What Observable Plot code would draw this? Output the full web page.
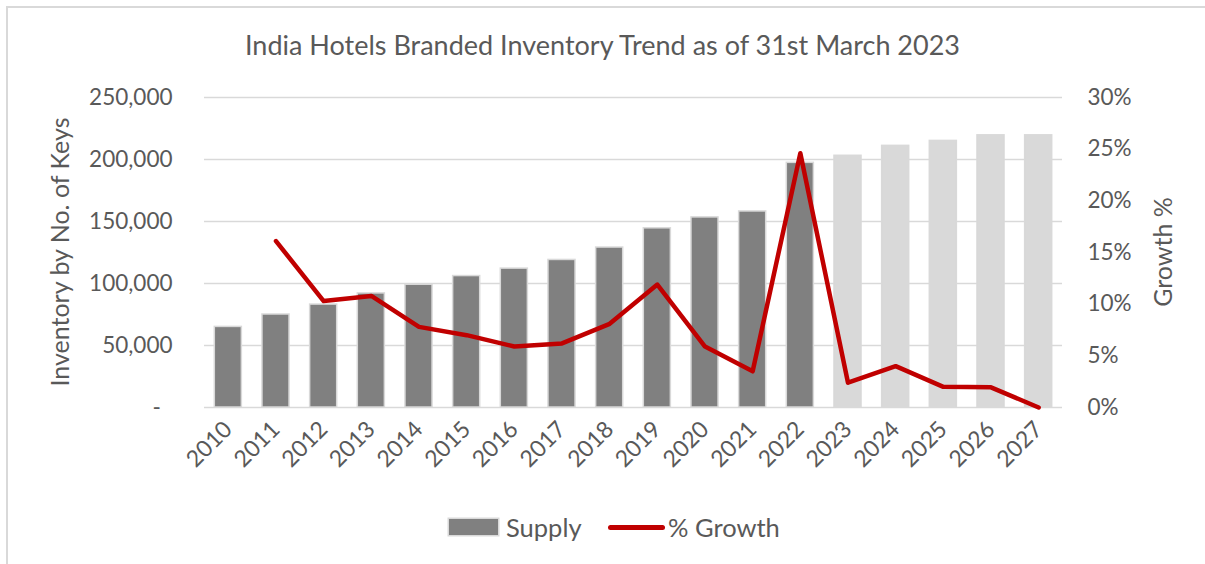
<!DOCTYPE html>
<html><head><meta charset="utf-8">
<script src="https://cdn.jsdelivr.net/npm/d3@7"></script>
<script src="https://cdn.jsdelivr.net/npm/@observablehq/plot@0.6"></script>
<style>
html,body{margin:0;padding:0;background:#fff;overflow:hidden;width:1205px;height:564px}
#wrap{position:relative;width:1205px;height:564px;font-family:Lato,sans-serif;color:#595959}
#frame{position:absolute;left:6px;top:6px;width:1300px;height:700px;border:2px solid #d9d9d9;box-sizing:border-box;pointer-events:none}
#chart{position:absolute;left:0;top:0}
#title{position:absolute;left:0;width:1205px;top:28px;text-align:center;font-size:27px;line-height:34px;white-space:nowrap}
.ytitle{position:absolute;font-size:25px;line-height:30px;white-space:nowrap;transform:translate(-50%,-50%) rotate(-90deg)}
#legend{position:absolute;top:512px;left:0;width:1205px;height:30px;font-size:25.5px;line-height:30px}
.sw{position:absolute}
.lt{position:absolute;top:0;white-space:nowrap}
</style></head>
<body><div id="wrap">
<div id="chart"></div>
<div id="title"></div>
<div class="ytitle" id="yl" style="left:59px;top:252px"></div>
<div class="ytitle" id="yr" style="left:1162px;top:252px"></div>
<div id="legend"></div>
<div id="frame"></div>
</div>
<script>
const titleText = "India Hotels Branded Inventory Trend as of 31st March 2023";
const leftTitle = "Inventory by No. of Keys";
const rightTitle = "Growth %";
const years = ["2010","2011","2012","2013","2014","2015","2016","2017","2018","2019","2020","2021","2022","2023","2024","2025","2026","2027"];
const supply = [65000,75000,83000,92000,99000,106000,112000,119000,129000,144500,153300,158100,197300,203000,211000,215000,219500,219500];
const growthPct = [null,16.1,10.3,10.8,7.8,7.0,5.9,6.2,8.1,11.9,5.9,3.5,24.6,2.4,4.0,2.0,1.95,0];
const kind = ["Actual","Actual","Actual","Actual","Actual","Actual","Actual","Actual","Actual","Actual","Actual","Actual","Actual","Projected","Projected","Projected","Projected","Projected"];
const leftTicks = [0,50000,100000,150000,200000,250000];
const rightTicks = [0,5,10,15,20,25,30];
const seriesNames = ["Supply","% Growth"];

const yMax = 250000, pMax = 30, k = yMax / pMax;
const table = years.map((y,i)=>({year:y, supply:supply[i], growth:growthPct[i], kind:kind[i]}));
const lineData = table.filter(d=>d.growth!=null).map(d=>({year:d.year, yg:d.growth*k}));
const fmt = d3.format(",");

const plot = Plot.plot({
  width:1205, height:564,
  marginLeft:204, marginRight:143, marginTop:97, marginBottom:157,
  style:{fontFamily:"Lato, sans-serif", color:"#595959", background:"transparent", overflow:"visible"},
  x:{domain:years, padding:0, round:false, label:null},
  y:{domain:[0,yMax], label:null},
  color:{domain:["Actual","Projected"], range:["#808080","#d9d9d9"]},
  marks:[
    Plot.ruleY(leftTicks,{stroke:"#d9d9d9", strokeWidth:1.5}),
    Plot.barY(table,{x:"year", y:"supply", fill:"kind", stroke:"#d9d9d9", strokeWidth:1.5, insetLeft:10.3, insetRight:10.3}),
    Plot.line(lineData,{x:"year", y:"yg", stroke:"#c00000", strokeWidth:4.5, strokeLinejoin:"round", strokeLinecap:"round"}),
    Plot.axisY(leftTicks,{anchor:"left", tickSize:0, tickPadding:32, fontSize:22.5, label:null,
      tickFormat:d=> d===0 ? "-\u00a0\u00a0" : fmt(d)}),
    Plot.axisY(rightTicks.map(p=>p*k),{anchor:"right", tickSize:0, tickPadding:25, fontSize:22.5, label:null,
      tickFormat:d=> Math.round(d/k)+"%"}),
    Plot.axisX({tickRotate:-45, tickSize:0, tickPadding:18, fontSize:23, label:null})
  ]
});
document.getElementById("chart").appendChild(plot);
document.getElementById("title").textContent = titleText;
document.getElementById("yl").textContent = leftTitle;
document.getElementById("yr").textContent = rightTitle;

const lg = document.getElementById("legend");
lg.innerHTML =
  `<div class="sw" style="left:449px;top:7px;width:49px;height:16px;background:#808080;box-shadow:0 0 0 1.5px #d9d9d9"></div>
   <div class="lt" style="left:506px">${seriesNames[0]}</div>
   <div class="sw" style="left:608px;top:12.5px;width:57px;height:5px;background:#c00000;border-radius:3px"></div>
   <div class="lt" style="left:668px">${seriesNames[1]}</div>`;
</script>
</body></html>
